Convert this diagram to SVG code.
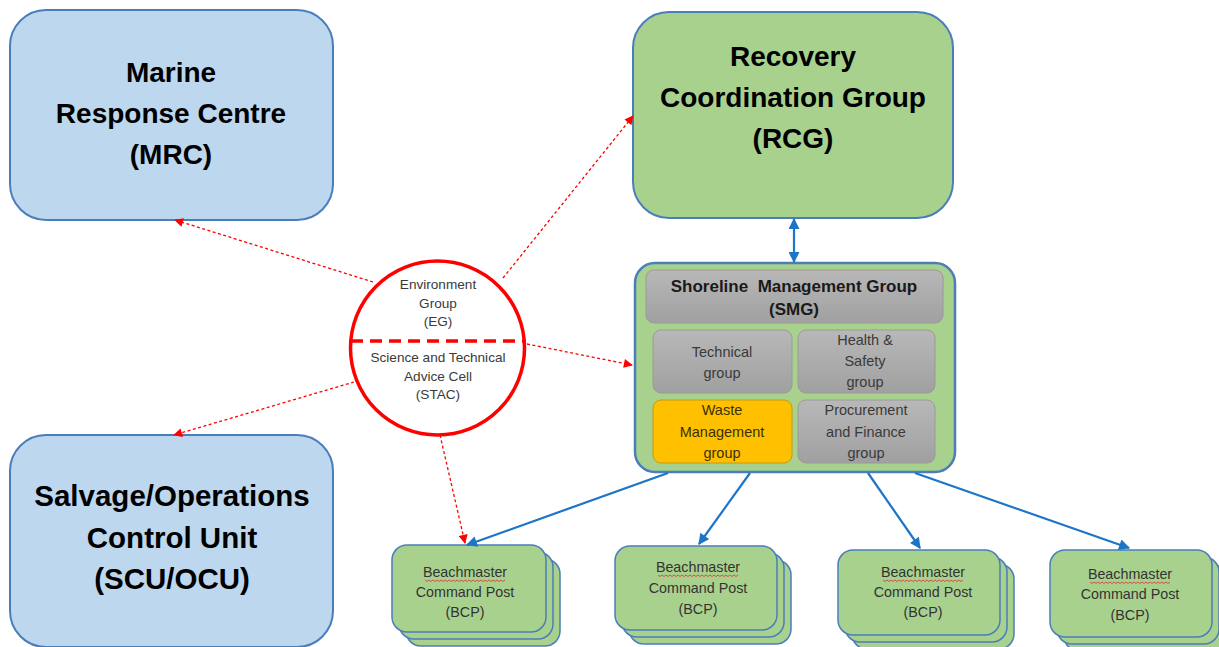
<svg xmlns="http://www.w3.org/2000/svg" width="1219" height="647" viewBox="0 0 1219 647">
<style>
.big{font-family:"Liberation Sans",Arial,sans-serif;font-weight:bold;font-size:28px;fill:#000;text-anchor:middle}
.ttl{font-family:"Liberation Sans",Arial,sans-serif;font-weight:bold;font-size:17px;fill:#1a1a1a;text-anchor:middle;white-space:pre}
.sub{font-family:"Liberation Sans",Arial,sans-serif;font-size:14.5px;fill:#3a3a3a;text-anchor:middle}
.cir{font-family:"Liberation Sans",Arial,sans-serif;font-size:13.6px;fill:#3a3a3a;text-anchor:middle}
.bcp{font-family:"Liberation Sans",Arial,sans-serif;font-size:14.3px;fill:#333;text-anchor:middle}
.blue{fill:#BDD7EE;stroke:#4A7EBB;stroke-width:2}
.green{fill:#A9D18E;stroke:#4A7EBB;stroke-width:2}
.bcpbox{fill:#A9D18E;stroke:#4A7EBB;stroke-width:1.5}
.gray{fill:url(#gg);stroke:#9a9a9a;stroke-width:1}
.redl{fill:none;stroke:#FF0000;stroke-width:1.3;stroke-dasharray:3 2.5}
.bluel{fill:none;stroke:#1C75C8;stroke-width:2.2}
.wavy{fill:none;stroke:#E03030;stroke-width:0.8}
</style>
<defs>
<linearGradient id="gg" x1="0" y1="0" x2="0" y2="1">
<stop offset="0" stop-color="#B8B8B8"/>
<stop offset="1" stop-color="#A0A0A0"/>
</linearGradient>
<marker id="ab" viewBox="0 0 10 10" refX="9" refY="5" markerWidth="12" markerHeight="11" markerUnits="userSpaceOnUse" orient="auto-start-reverse">
<path d="M0,0 L10,5 L0,10 Z" fill="#1C75C8"/>
</marker>
<marker id="ar" viewBox="0 0 10 10" refX="9" refY="5" markerWidth="10" markerHeight="9" markerUnits="userSpaceOnUse" orient="auto">
<path d="M0,0 L10,5 L0,10 Z" fill="#FF0000"/>
</marker>
</defs>
<rect width="1219" height="647" fill="#fff"/>

<g id="mrc">
<rect class="blue" x="10" y="10" width="323" height="210" rx="36"/>
<text class="big" x="171" y="82">Marine</text>
<text class="big" x="171" y="123">Response Centre</text>
<text class="big" x="171" y="164">(MRC)</text>
</g>

<g id="scu">
<rect class="blue" x="10" y="435" width="323" height="212" rx="36"/>
<text class="big" x="172" y="506" style="font-size:29.5px">Salvage/Operations</text>
<text class="big" x="172" y="548" style="font-size:29.5px">Control Unit</text>
<text class="big" x="172" y="589" style="font-size:29.5px">(SCU/OCU)</text>
</g>

<g id="rcg">
<rect class="green" x="633" y="12" width="320" height="206" rx="36"/>
<text class="big" x="793" y="66">Recovery</text>
<text class="big" x="793" y="107">Coordination Group</text>
<text class="big" x="793" y="148">(RCG)</text>
</g>

<g id="smg">
<rect class="green" x="635" y="263" width="320" height="209" rx="20" style="stroke-width:2.5"/>
<rect class="gray" x="646" y="270" width="297" height="53" rx="8"/>
<text class="ttl" x="794" y="292">Shoreline  Management Group</text>
<text class="ttl" x="794" y="315">(SMG)</text>
</g>

<g id="technical">
<rect class="gray" x="653" y="330" width="139" height="63" rx="8"/>
<text class="sub" x="722" y="357">Technical</text>
<text class="sub" x="722" y="378">group</text>
</g>

<g id="health">
<rect class="gray" x="798" y="330" width="137" height="63" rx="8"/>
<text class="sub" x="865" y="345">Health &amp;</text>
<text class="sub" x="865" y="366">Safety</text>
<text class="sub" x="865" y="387">group</text>
</g>

<g id="waste">
<rect x="653" y="400" width="139" height="63" rx="8" fill="#FFC000" stroke="#C89A10" stroke-width="1"/>
<text class="sub" x="722" y="415" style="fill:#3a3000">Waste</text>
<text class="sub" x="722" y="437" style="fill:#3a3000">Management</text>
<text class="sub" x="722" y="458" style="fill:#3a3000">group</text>
</g>

<g id="procurement">
<rect class="gray" x="798" y="400" width="137" height="63" rx="8"/>
<text class="sub" x="866" y="415">Procurement</text>
<text class="sub" x="866" y="437">and Finance</text>
<text class="sub" x="866" y="458">group</text>
</g>

<g id="eg-stac">
<circle cx="437.5" cy="348" r="87" fill="#fff" stroke="#FF0000" stroke-width="3.5"/>
<line x1="351" y1="341" x2="524" y2="341" stroke="#FF0000" stroke-width="3.5" stroke-dasharray="12 7"/>
<text class="cir" x="438" y="289">Environment</text>
<text class="cir" x="438" y="308">Group</text>
<text class="cir" x="438" y="326">(EG)</text>
<text class="cir" x="438" y="362">Science and Technical</text>
<text class="cir" x="438" y="381">Advice Cell</text>
<text class="cir" x="438" y="399">(STAC)</text>
</g>

<g id="bcp1">
<rect class="bcpbox" x="406" y="559" width="154" height="87" rx="15"/>
<rect class="bcpbox" x="399" y="552" width="154" height="87" rx="15"/>
<rect class="bcpbox" x="392" y="545" width="154" height="87" rx="15"/>
<text class="bcp" x="465" y="577">Beachmaster</text>
<path class="wavy" d="M425,580 l2,1.5 l2,-1.5 l2,1.5 l2,-1.5 l2,1.5 l2,-1.5 l2,1.5 l2,-1.5 l2,1.5 l2,-1.5 l2,1.5 l2,-1.5 l2,1.5 l2,-1.5 l2,1.5 l2,-1.5 l2,1.5 l2,-1.5 l2,1.5 l2,-1.5 l2,1.5 l2,-1.5 l2,1.5 l2,-1.5 l2,1.5 l2,-1.5 l2,1.5 l2,-1.5 l2,1.5 l2,-1.5 l2,1.5 l2,-1.5 l2,1.5 l2,-1.5 l2,1.5 l2,-1.5 l2,1.5 l2,-1.5 l2,1.5 l2,-1.5"/>
<text class="bcp" x="465" y="597">Command Post</text>
<text class="bcp" x="465" y="617">(BCP)</text>
</g>

<g id="bcp2">
<rect class="bcpbox" x="629" y="560" width="162" height="84" rx="15"/>
<rect class="bcpbox" x="622" y="553" width="162" height="84" rx="15"/>
<rect class="bcpbox" x="615" y="546" width="162" height="84" rx="15"/>
<text class="bcp" x="698" y="572">Beachmaster</text>
<path class="wavy" d="M658,575 l2,1.5 l2,-1.5 l2,1.5 l2,-1.5 l2,1.5 l2,-1.5 l2,1.5 l2,-1.5 l2,1.5 l2,-1.5 l2,1.5 l2,-1.5 l2,1.5 l2,-1.5 l2,1.5 l2,-1.5 l2,1.5 l2,-1.5 l2,1.5 l2,-1.5 l2,1.5 l2,-1.5 l2,1.5 l2,-1.5 l2,1.5 l2,-1.5 l2,1.5 l2,-1.5 l2,1.5 l2,-1.5 l2,1.5 l2,-1.5 l2,1.5 l2,-1.5 l2,1.5 l2,-1.5 l2,1.5 l2,-1.5 l2,1.5 l2,-1.5"/>
<text class="bcp" x="698" y="593">Command Post</text>
<text class="bcp" x="698" y="614">(BCP)</text>
</g>

<g id="bcp3">
<rect class="bcpbox" x="852" y="564" width="162" height="85" rx="15"/>
<rect class="bcpbox" x="845" y="557" width="162" height="85" rx="15"/>
<rect class="bcpbox" x="838" y="550" width="162" height="85" rx="15"/>
<text class="bcp" x="923" y="577">Beachmaster</text>
<path class="wavy" d="M883,580 l2,1.5 l2,-1.5 l2,1.5 l2,-1.5 l2,1.5 l2,-1.5 l2,1.5 l2,-1.5 l2,1.5 l2,-1.5 l2,1.5 l2,-1.5 l2,1.5 l2,-1.5 l2,1.5 l2,-1.5 l2,1.5 l2,-1.5 l2,1.5 l2,-1.5 l2,1.5 l2,-1.5 l2,1.5 l2,-1.5 l2,1.5 l2,-1.5 l2,1.5 l2,-1.5 l2,1.5 l2,-1.5 l2,1.5 l2,-1.5 l2,1.5 l2,-1.5 l2,1.5 l2,-1.5 l2,1.5 l2,-1.5 l2,1.5 l2,-1.5"/>
<text class="bcp" x="923" y="597">Command Post</text>
<text class="bcp" x="923" y="617">(BCP)</text>
</g>

<g id="bcp4">
<rect class="bcpbox" x="1064" y="564" width="162" height="87" rx="15"/>
<rect class="bcpbox" x="1057" y="557" width="162" height="87" rx="15"/>
<rect class="bcpbox" x="1050" y="550" width="162" height="87" rx="15"/>
<text class="bcp" x="1130" y="579">Beachmaster</text>
<path class="wavy" d="M1090,582 l2,1.5 l2,-1.5 l2,1.5 l2,-1.5 l2,1.5 l2,-1.5 l2,1.5 l2,-1.5 l2,1.5 l2,-1.5 l2,1.5 l2,-1.5 l2,1.5 l2,-1.5 l2,1.5 l2,-1.5 l2,1.5 l2,-1.5 l2,1.5 l2,-1.5 l2,1.5 l2,-1.5 l2,1.5 l2,-1.5 l2,1.5 l2,-1.5 l2,1.5 l2,-1.5 l2,1.5 l2,-1.5 l2,1.5 l2,-1.5 l2,1.5 l2,-1.5 l2,1.5 l2,-1.5 l2,1.5 l2,-1.5 l2,1.5 l2,-1.5"/>
<text class="bcp" x="1130" y="599">Command Post</text>
<text class="bcp" x="1130" y="620">(BCP)</text>
</g>

<g id="connectors">
<line class="bluel" x1="794" y1="219" x2="794" y2="262" marker-start="url(#ab)" marker-end="url(#ab)"/>
<line class="bluel" x1="668" y1="473" x2="467" y2="545" marker-end="url(#ab)"/>
<line class="bluel" x1="750" y1="473" x2="699" y2="544" marker-end="url(#ab)"/>
<line class="bluel" x1="868" y1="473" x2="920" y2="548" marker-end="url(#ab)"/>
<line class="bluel" x1="915" y1="473" x2="1129" y2="548" marker-end="url(#ab)"/>
<line class="redl" x1="373" y1="282" x2="175" y2="220" marker-end="url(#ar)"/>
<line class="redl" x1="503" y1="278" x2="633" y2="116" marker-end="url(#ar)"/>
<line class="redl" x1="527" y1="344" x2="632" y2="365" marker-end="url(#ar)"/>
<line class="redl" x1="354" y1="382" x2="174" y2="435" marker-end="url(#ar)"/>
<line class="redl" x1="440" y1="435" x2="465" y2="543" marker-end="url(#ar)"/>
</g>
</svg>
